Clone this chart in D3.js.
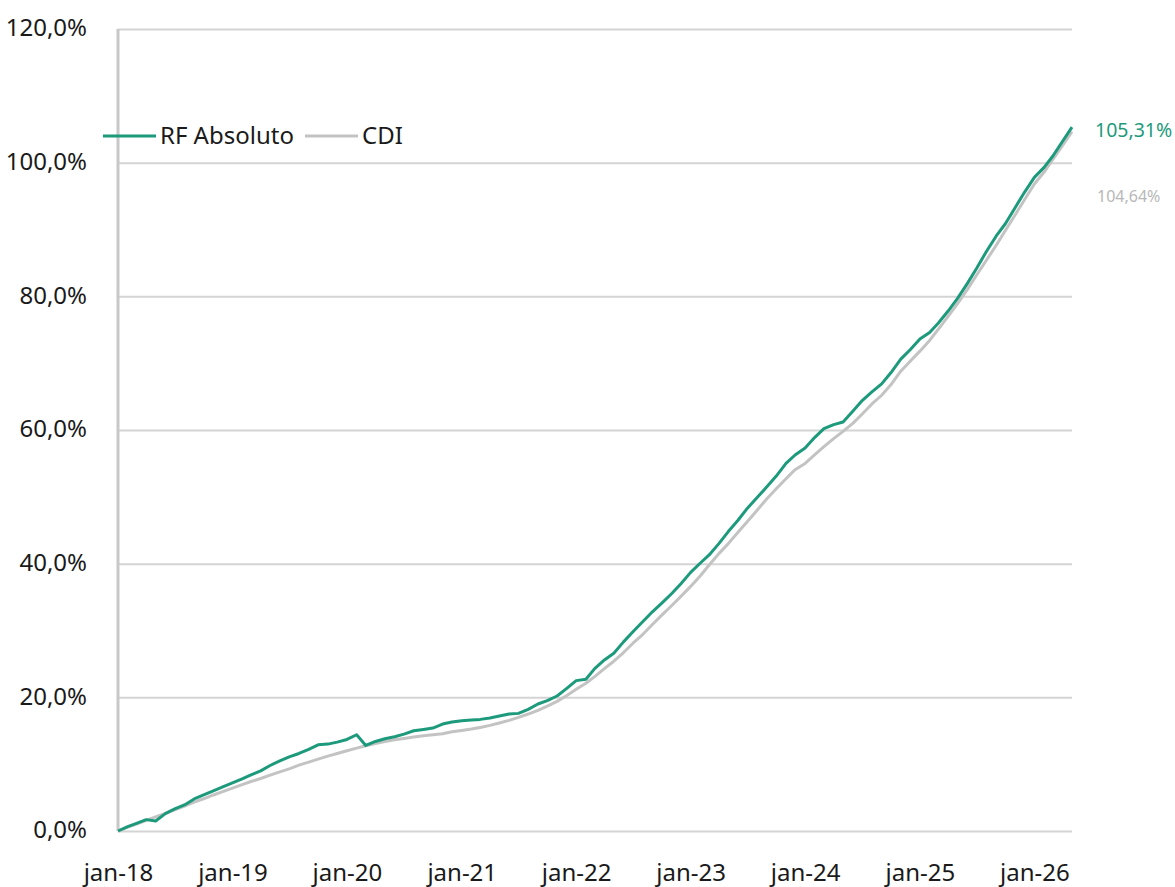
<!DOCTYPE html>
<html>
<head>
  <meta charset="utf-8">
  <title>RF Absoluto x CDI</title>
  <script src="https://cdnjs.cloudflare.com/ajax/libs/d3/7.8.5/d3.min.js"></script>
  <style>
    body { margin: 0; background: #fff; }
    svg, svg text { font-family: "Noto Sans", sans-serif; }
    .grid line { stroke: #d4d4d4; stroke-width: 2px; }
    .grid path { display: none; }
    .axis text { fill: #1a1a1a; font-size: 24px; font-family: "Noto Sans", sans-serif; }
    .axis path, .axis line { display: none; }
  </style>
</head>
<body>
<svg id="chart" width="1175" height="887"></svg>
<script>
// monthly points, starting jan-2018 (cumulative return, %)
var startMonth = new Date(2018, 0, 1);

var rfAbsoluto = [
  0, 0.65, 1.15, 1.7, 1.5, 2.6, 3.3, 3.9, 4.8, 5.4, 6.0, 6.6,
  7.2, 7.8, 8.4, 9.0, 9.8, 10.5, 11.1, 11.6, 12.2, 12.9, 13.0, 13.3,
  13.7, 14.4, 12.8, 13.4, 13.8, 14.1, 14.5, 15.0, 15.2, 15.4, 16.0, 16.3,
  16.5, 16.6, 16.7, 16.9, 17.2, 17.5, 17.6, 18.2, 19.0, 19.5, 20.2, 21.3,
  22.5, 22.7, 24.3, 25.6, 26.6, 28.3, 29.8, 31.3, 32.8, 34.1, 35.5, 37.0,
  38.7, 40.1, 41.3, 43.0, 44.8, 46.5, 48.3, 49.9, 51.5, 53.1, 55.0, 56.3,
  57.3, 58.9, 60.2, 60.8, 61.2, 62.8, 64.4, 65.7, 66.9, 68.6, 70.6, 72.0,
  73.6, 74.6, 76.0, 77.8, 79.7, 81.9, 84.2, 86.7, 89.0, 90.9, 93.3, 95.6,
  97.8, 99.3, 101.0, 103.2, 105.31
];

var cdi = [
  0, 0.58, 1.05, 1.59, 2.12, 2.65, 3.18, 3.74, 4.33, 4.82, 5.39, 5.90,
  6.42, 6.95, 7.4, 7.85, 8.35, 8.85, 9.3, 9.85, 10.3, 10.75, 11.2, 11.6,
  12.0, 12.4, 12.75, 13.1, 13.4, 13.65, 13.85, 14.05, 14.25, 14.4, 14.55, 14.85,
  15.05, 15.25, 15.5, 15.8, 16.15, 16.55, 17.0, 17.5, 18.05, 18.7, 19.4, 20.25,
  21.2, 22.1, 23.1, 24.3, 25.4, 26.7, 28.1, 29.4, 30.9, 32.3, 33.7, 35.1,
  36.6, 38.2, 39.8, 41.5, 43.0, 44.7, 46.3, 48.0, 49.7, 51.2, 52.7, 54.1,
  55.0, 56.3, 57.5, 58.7, 59.8, 61.0, 62.4, 63.9, 65.2, 66.8, 68.8, 70.3,
  71.8, 73.4, 75.1, 77.0, 78.9, 81.0, 83.2, 85.4, 87.6, 89.9, 92.2, 94.5,
  96.8, 98.6, 100.5, 102.6, 104.64
];

var yTicks = [0, 20, 40, 60, 80, 100, 120];
var xTickYears = [2018, 2019, 2020, 2021, 2022, 2023, 2024, 2025, 2026];
var xTickLabels = ["jan-18", "jan-19", "jan-20", "jan-21", "jan-22", "jan-23", "jan-24", "jan-25", "jan-26"];

var series = [
  { name: "RF Absoluto", values: rfAbsoluto, color: "#1d9a7c" },
  { name: "CDI", values: cdi, color: "#c3c3c3" }
];

var svg = d3.select("#chart");
var mLeft = 118, mRight = 1072, mTop = 29, mBottom = 831;

var dates = rfAbsoluto.map(function(d, i) { return d3.timeMonth.offset(startMonth, i); });

var x = d3.scaleTime()
  .domain([dates[0], dates[dates.length - 1]])
  .range([mLeft, mRight]);

var y = d3.scaleLinear()
  .domain([0, 120])
  .range([mBottom, mTop]);

var fmtPct = function(d) { return d3.format(".1f")(d).replace(".", ",") + "%"; };
var fmtPct2 = function(d) { return d3.format(".2f")(d).replace(".", ",") + "%"; };

// horizontal grid
svg.append("g")
  .attr("class", "grid")
  .attr("transform", "translate(" + mLeft + ",0)")
  .call(d3.axisLeft(y).tickValues(yTicks).tickSize(-(mRight - mLeft)).tickFormat(""));

// y labels
svg.append("g")
  .attr("class", "axis")
  .attr("transform", "translate(87,-1)")
  .call(d3.axisLeft(y).tickValues(yTicks).tickSize(0).tickPadding(0).tickFormat(fmtPct));

// x labels
var xTickDates = xTickYears.map(function(yr) { return new Date(yr, 0, 1); });
svg.append("g")
  .attr("class", "axis")
  .attr("transform", "translate(0," + (mBottom + 33) + ")")
  .call(d3.axisBottom(x).tickValues(xTickDates).tickSize(0).tickPadding(0)
    .tickFormat(function(d, i) { return xTickLabels[i]; }));

// left axis line
svg.append("line")
  .attr("x1", mLeft).attr("x2", mLeft)
  .attr("y1", y(120)).attr("y2", y(0))
  .attr("stroke", "#c8c8c8")
  .attr("stroke-width", 3);

var line = d3.line()
  .x(function(d, i) { return x(dates[i]); })
  .y(function(d) { return y(d); });

// CDI first, fund on top
[series[1], series[0]].forEach(function(s) {
  svg.append("path")
    .datum(s.values)
    .attr("fill", "none")
    .attr("stroke", s.color)
    .attr("stroke-width", 3)
    .attr("stroke-linejoin", "round")
    .attr("d", line);
});

// legend
var legend = svg.append("g").attr("transform", "translate(103,136)");
legend.append("line").attr("x1", 0).attr("x2", 53).attr("stroke", series[0].color).attr("stroke-width", 3);
legend.append("text").attr("x", 57).attr("dy", "0.35em").attr("font-size", 24).attr("fill", "#1a1a1a").text(series[0].name);
legend.append("line").attr("x1", 202).attr("x2", 255).attr("stroke", series[1].color).attr("stroke-width", 3);
legend.append("text").attr("x", 259).attr("dy", "0.35em").attr("font-size", 24).attr("fill", "#1a1a1a").text(series[1].name);

// end labels
var last = rfAbsoluto.length - 1;
svg.append("text")
  .attr("x", 1095).attr("y", 130).attr("dy", "0.35em")
  .attr("font-size", 19.5).attr("fill", series[0].color)
  .text(fmtPct2(rfAbsoluto[last]));
svg.append("text")
  .attr("x", 1097).attr("y", 196).attr("dy", "0.35em")
  .attr("font-size", 16).attr("fill", "#b8b8b8")
  .text(fmtPct2(cdi[last]));
</script>
</body>
</html>
